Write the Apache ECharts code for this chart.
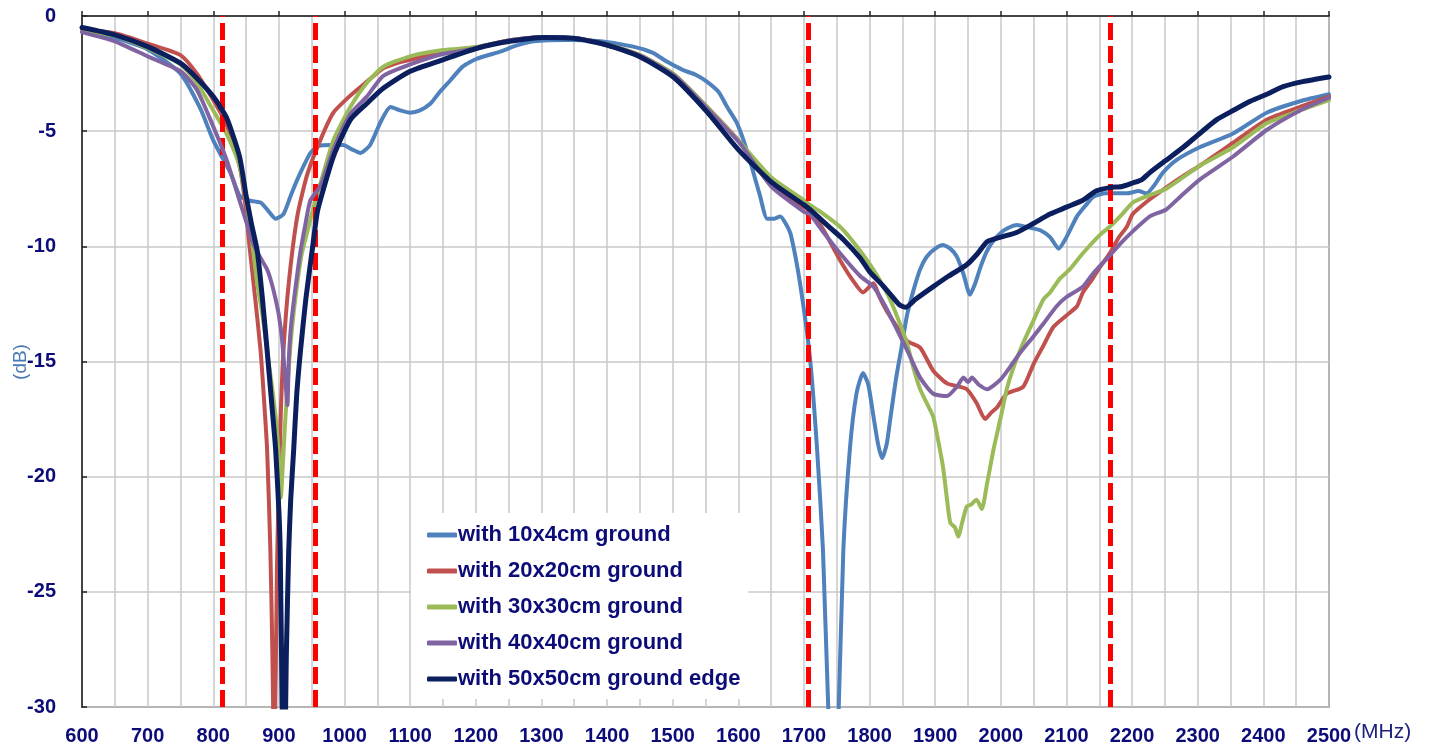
<!DOCTYPE html>
<html>
<head>
<meta charset="utf-8">
<script src="https://cdn.jsdelivr.net/npm/echarts@6/dist/echarts.min.js"></script>
<style>
html,body{margin:0;padding:0;background:#fff;}
#chart{width:1434px;height:751px;}
</style>
</head>
<body>
<div id="chart"></div>
<script>
// ---- data ----
const seriesNames = ["with 10x4cm ground", "with 20x20cm ground", "with 30x30cm ground", "with 40x40cm ground", "with 50x50cm ground edge"];
const bandEdges = [814, 956, 1707, 2167];
const xTicks = [600, 2500, 100];
const yTicks = [-30, 0, 5];

const fBlue = [600,650,700,750,780,800,811,826,840,852,872,885,895,907,918,928,948,960,980,998,1012,1024,1039,1055,1070,1085,1100,1115,1131,1145,1161,1180,1202,1237,1260,1288,1339,1390,1440,1470,1491,1516,1535,1552,1570,1583,1597,1608,1620,1633,1644,1655,1664,1672,1680,1694,1709,1720,1729,1737,1745,1753,1760,1770,1780,1790,1798,1806,1813,1819,1826,1832,1840,1848,1857,1867,1877,1887,1900,1912,1923,1933,1943,1953,1961,1969,1979,1989,2005,2024,2045,2060,2075,2088,2100,2116,2130,2141,2160,2192,2210,2222,2235,2247,2268,2303,2354,2405,2456,2500];
const dBlue = [-0.6,-0.95,-1.45,-2.5,-4.0,-5.4,-6.0,-6.8,-7.8,-8.0,-8.1,-8.5,-8.8,-8.6,-7.8,-7.1,-5.95,-5.65,-5.6,-5.6,-5.8,-5.95,-5.6,-4.6,-3.95,-4.1,-4.2,-4.1,-3.8,-3.3,-2.8,-2.2,-1.85,-1.55,-1.3,-1.1,-1.04,-1.1,-1.33,-1.6,-1.98,-2.35,-2.55,-2.85,-3.3,-3.95,-4.6,-5.4,-6.5,-7.8,-8.8,-8.8,-8.7,-9.0,-9.5,-11.6,-14.8,-18.8,-23.2,-30,-34,-30,-23.2,-18.8,-16.4,-15.5,-16.0,-17.4,-18.6,-19.2,-18.6,-17.4,-15.8,-14.5,-13.0,-11.9,-11.0,-10.45,-10.1,-9.94,-10.1,-10.45,-11.2,-12.1,-11.6,-10.9,-10.2,-9.75,-9.3,-9.07,-9.2,-9.3,-9.6,-10.1,-9.6,-8.7,-8.2,-7.85,-7.7,-7.7,-7.6,-7.7,-7.3,-6.8,-6.25,-5.7,-5.1,-4.2,-3.7,-3.4];

const fRed = [600,650,700,750,775,800,820,840,848,856,864,872,877,882,887,890,893,897,900,903,907,915,928,943,963,983,1009,1034,1059,1085,1100,1150,1202,1252,1303,1353,1400,1450,1503,1552,1603,1650,1700,1709,1730,1755,1775,1790,1806,1815,1826,1857,1877,1897,1918,1938,1948,1963,1976,1986,1994,2009,2034,2050,2065,2080,2100,2116,2125,2140,2151,2166,2180,2192,2201,2225,2247,2275,2303,2354,2405,2456,2500];
const dRed = [-0.6,-0.75,-1.2,-1.7,-2.5,-3.65,-4.7,-6.5,-8.0,-10.2,-12.3,-14.5,-16.5,-18.8,-23.2,-27.5,-33,-24,-20.3,-17.2,-14.5,-11.6,-8.7,-6.9,-5.4,-4.2,-3.45,-2.85,-2.27,-2.0,-1.9,-1.55,-1.35,-1.05,-0.92,-0.97,-1.25,-1.7,-2.56,-3.94,-5.5,-7.3,-8.3,-8.4,-9.3,-10.6,-11.5,-12.0,-11.6,-12.2,-12.8,-14.1,-14.4,-15.4,-15.95,-16.1,-16.2,-16.8,-17.5,-17.2,-17.0,-16.4,-16.1,-15.1,-14.3,-13.5,-13.0,-12.6,-12.0,-11.4,-10.9,-10.3,-9.6,-9.15,-8.6,-8.0,-7.55,-7.0,-6.5,-5.5,-4.5,-3.94,-3.5];

const fGreen = [600,650,700,750,775,800,820,840,850,854,860,867,875,882,889,895,900,903,906,910,917,922,928,935,943,950,963,983,1009,1034,1059,1100,1150,1202,1252,1303,1353,1400,1450,1503,1552,1603,1650,1700,1709,1730,1755,1775,1796,1810,1826,1840,1857,1867,1877,1887,1897,1905,1912,1918,1923,1930,1935,1941,1948,1955,1963,1971,1979,1989,2000,2009,2020,2034,2050,2065,2075,2090,2105,2125,2151,2166,2185,2201,2225,2252,2303,2354,2405,2456,2500];
const dGreen = [-0.65,-0.85,-1.4,-2.1,-2.9,-4.1,-5.1,-6.5,-8.0,-8.7,-10.0,-11.6,-13.0,-14.5,-16.0,-17.4,-19.2,-20.9,-19.5,-17.4,-14.5,-13.0,-11.6,-10.3,-9.4,-8.6,-7.3,-5.4,-3.94,-2.9,-2.2,-1.75,-1.48,-1.35,-1.05,-0.92,-0.97,-1.25,-1.7,-2.55,-3.94,-5.5,-7.0,-8.0,-8.2,-8.6,-9.15,-9.8,-10.6,-11.2,-12.0,-12.9,-14.2,-15.3,-16.2,-16.8,-17.4,-18.5,-19.6,-21.0,-22.0,-22.2,-22.6,-22.0,-21.3,-21.2,-21.0,-21.4,-20.3,-18.8,-17.4,-16.2,-15.2,-14.2,-13.2,-12.3,-12.0,-11.4,-11.0,-10.3,-9.5,-9.15,-8.6,-8.1,-7.8,-7.5,-6.5,-5.7,-4.66,-4.1,-3.65];

const fPurple = [600,650,700,750,775,800,821,841,851,861,872,882,889,895,900,905,910,913,915,918,923,928,933,940,948,963,983,1009,1034,1059,1100,1150,1202,1252,1303,1353,1400,1450,1503,1552,1603,1650,1700,1709,1730,1755,1786,1806,1820,1832,1857,1877,1897,1918,1933,1943,1950,1956,1966,1979,1999,2015,2030,2050,2065,2085,2100,2125,2140,2166,2185,2201,2227,2252,2275,2303,2354,2405,2456,2500];
const dPurple = [-0.7,-1.1,-1.75,-2.4,-3.2,-4.8,-6.3,-8.1,-9.0,-9.9,-10.5,-11.0,-11.6,-12.3,-13.0,-14.1,-15.9,-16.9,-15.0,-13.6,-12.3,-11.2,-10.2,-9.1,-8.0,-7.4,-5.8,-4.25,-3.5,-2.6,-2.1,-1.65,-1.4,-1.05,-0.92,-0.97,-1.28,-1.72,-2.6,-4.0,-5.55,-7.4,-8.5,-8.6,-9.4,-10.3,-11.3,-11.75,-12.4,-13.05,-14.5,-15.7,-16.4,-16.5,-16.1,-15.7,-15.9,-15.7,-16.0,-16.2,-15.8,-15.2,-14.6,-13.9,-13.35,-12.6,-12.2,-11.75,-11.2,-10.4,-9.8,-9.35,-8.7,-8.4,-7.8,-7.1,-6.1,-4.95,-4.1,-3.55];

const fNavy = [600,650,700,750,775,800,820,840,850,858,867,875,882,889,895,900,902,905,908,911.5,915,918,922.6,927,933,941,950.6,958,963,983,1009,1034,1059,1100,1150,1202,1252,1303,1349,1400,1450,1501,1552,1600,1650,1700,1709,1740,1760,1785.6,1800,1820,1835,1846,1855,1870,1897,1920,1948,1965,1979,2000,2024,2050,2075,2100,2125,2145,2166,2185,2201,2215,2227,2250,2278,2303,2329,2354,2380,2405,2430,2460,2500];
const dNavy = [-0.5,-0.82,-1.33,-2.05,-2.7,-3.5,-4.4,-6.1,-7.8,-9.0,-10.2,-12.3,-14.5,-16.8,-18.8,-21.5,-23.2,-30,-34,-27.5,-23.2,-21.0,-18.8,-16.5,-14.5,-12.3,-10.2,-8.6,-8.0,-6.1,-4.5,-3.8,-3.14,-2.4,-1.9,-1.4,-1.1,-0.93,-0.97,-1.26,-1.77,-2.65,-4.15,-5.8,-7.2,-8.2,-8.4,-9.2,-9.7,-10.5,-11.1,-11.7,-12.2,-12.55,-12.65,-12.3,-11.75,-11.3,-10.8,-10.3,-9.8,-9.6,-9.4,-9.0,-8.6,-8.3,-8.0,-7.6,-7.45,-7.4,-7.25,-7.1,-6.8,-6.3,-5.7,-5.1,-4.5,-4.1,-3.7,-3.4,-3.07,-2.85,-2.65];

const colors = ["#4f81bd", "#c0504d", "#9bbb59", "#8064a2", "#0b1f5e"];
const widths = [4, 4, 4, 4, 5];
const freqs = [fBlue, fRed, fGreen, fPurple, fNavy];
const dbs = [dBlue, dRed, dGreen, dPurple, dNavy];

const txt = "#0c0c78";
const font = "'Liberation Sans', Arial, sans-serif";

const chart = echarts.init(document.getElementById('chart'));
const series = seriesNames.map((n, i) => ({
  name: n,
  type: 'line',
  data: freqs[i].map((f, k) => [f, dbs[i][k]]),
  showSymbol: false,
  symbol: 'none',
  smooth: 0.2,
  clip: true,
  lineStyle: { color: colors[i], width: widths[i], cap: 'round', join: 'round' },
  itemStyle: { color: colors[i] },
  z: 2 + i,
  animation: false
}));
series.push({
  name: 'bands',
  type: 'line',
  data: [],
  z: 10,
  animation: false,
  markLine: {
    silent: true,
    symbol: ['none', 'none'],
    label: { show: false },
    lineStyle: { color: '#ff0000', width: 5, type: [17, 6] },
    data: bandEdges.map(v => ({ xAxis: v })),
    animation: false
  }
});

chart.setOption({
  animation: false,
  backgroundColor: '#ffffff',
  grid: { left: 82, right: 105, top: 16, bottom: 44, outerBoundsMode: 'none', containLabel: false, show: true, borderColor: '#555', borderWidth: 1.5, backgroundColor: 'transparent' },
  xAxis: {
    type: 'value', min: xTicks[0], max: xTicks[1], interval: xTicks[2],
    axisLine: { show: true, lineStyle: { color: '#444', width: 2 } },
    axisTick: { show: true, inside: true, length: 5, lineStyle: { color: '#222', width: 1.5 } },
    minorTick: { show: false, splitNumber: 2 },
    splitLine: { show: true, lineStyle: { color: '#c8c8c8', width: 1.5 } },
    minorSplitLine: { show: true, lineStyle: { color: '#c8c8c8', width: 1.5 } },
    axisLabel: { color: txt, fontSize: 20, fontWeight: 'bold', fontFamily: font, margin: 19, formatter: v => String(v) }
  },
  yAxis: {
    type: 'value', min: yTicks[0], max: yTicks[1], interval: yTicks[2],
    axisLine: { show: true, lineStyle: { color: '#444', width: 2 } },
    axisTick: { show: true, inside: true, length: 5, lineStyle: { color: '#222', width: 1.5 } },
    splitLine: { show: true, lineStyle: { color: '#c8c8c8', width: 1.5 } },
    axisLabel: { color: txt, fontSize: 20, fontWeight: 'bold', fontFamily: font, margin: 26, formatter: v => String(v) }
  },
  graphic: [{
    type: 'text', left: 1354, top: 722,
    style: { text: '(MHz)', fill: '#1a237e', font: "21px 'Liberation Sans', Arial, sans-serif" }
  }, {
    type: 'text', x: 21, y: 362, rotation: Math.PI / 2,
    style: { text: '(dB)', fill: '#4a7ab5', font: "19px 'Liberation Sans', Arial, sans-serif", align: 'center', verticalAlign: 'middle' }
  }],
  legend: {
    data: seriesNames,
    orient: 'vertical',
    left: 411, top: 513,
    backgroundColor: '#ffffff',
    padding: [10, 8, 8, 16],
    itemGap: 12,
    itemWidth: 30, itemHeight: 5,
    icon: 'roundRect',
    selectedMode: false,
    textStyle: { color: txt, fontSize: 22, fontWeight: 'bold', fontFamily: font, lineHeight: 24, padding: [0, 0, 0, -4] }
  },
  series: series
});
</script>
</body>
</html>
